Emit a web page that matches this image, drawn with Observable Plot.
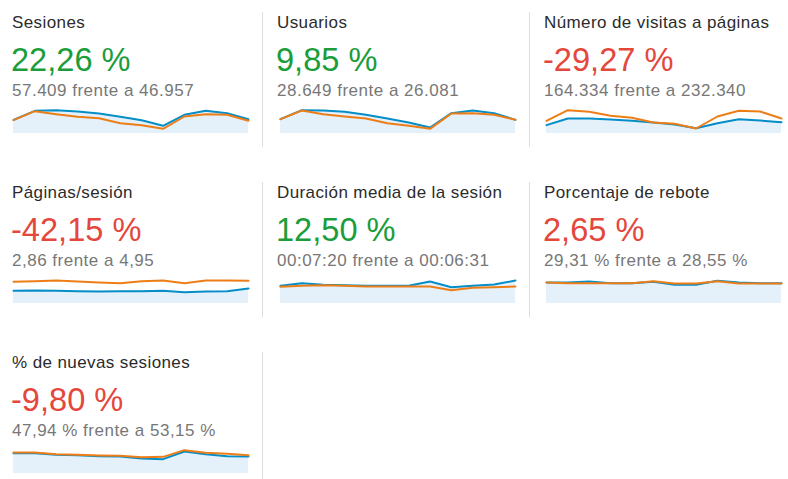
<!DOCTYPE html>
<html>
<head>
<meta charset="utf-8">
<script src="https://cdn.jsdelivr.net/npm/d3@7"></script>
<script src="https://cdn.jsdelivr.net/npm/@observablehq/plot@0.6"></script>
<style>
  html, body { margin: 0; padding: 0; background: #fff; }
  #root { position: relative; width: 788px; height: 479px; overflow: hidden; font-family: Arial, "Liberation Sans", sans-serif; }
  .title { position: absolute; font-size: 17px; line-height: 17px; letter-spacing: 0.4px; color: #2b2b2b; white-space: nowrap; }
  .big { position: absolute; font-size: 32.6px; line-height: 32px; white-space: nowrap; }
  .sub { position: absolute; font-size: 17px; line-height: 17px; letter-spacing: 0.5px; color: #777; white-space: nowrap; }
  .div { position: absolute; width: 1px; background: #ddd; }
  .spark { position: absolute; }
</style>
</head>
<body>
<div id="root"></div>
<script>
// ---- Data ----
const titles = ["Sesiones", "Usuarios", "Número de visitas a páginas", "Páginas/sesión", "Duración media de la sesión", "Porcentaje de rebote", "% de nuevas sesiones"];
const changes = ["22,26 %", "9,85 %", "-29,27 %", "-42,15 %", "12,50 %", "2,65 %", "-9,80 %"];
const good = [true, true, false, false, true, false, false];
const currentTotals = ["57.409", "28.649", "164.334", "2,86", "00:07:20", "29,31 %", "47,94 %"];
const previousTotals = ["46.957", "26.081", "232.340", "4,95", "00:06:31", "28,55 %", "53,15 %"];
const periods = [1, 2, 3, 4, 5, 6, 7, 8, 9, 10, 11, 12];

// relative sparkline values (current period = blue, previous period = orange)
const sesionesActual   = [41, 68, 70, 66, 60, 50, 40, 23, 56, 68, 61, 43];
const sesionesAnterior = [40, 67, 58, 50, 46, 31, 25, 14, 51, 58, 56, 38];
const usuariosActual   = [43, 70, 69, 65, 56, 45, 33, 18, 61, 69, 61, 41];
const usuariosAnterior = [43, 69, 58, 51, 45, 31, 23, 14, 60, 61, 56, 41];
const visitasActual    = [25, 45, 45, 42, 38, 33, 27, 16, 31, 43, 39, 34];
const visitasAnterior  = [38, 70, 65, 53, 47, 33, 29, 15, 51, 68, 66, 45];
const paginasActual    = [38, 39, 38, 37, 36, 37, 37, 38, 34, 36, 37, 45];
const paginasAnterior  = [65, 67, 69, 66, 63, 61, 67, 69, 61, 69, 69, 68];
const duracionActual   = [53, 61, 56, 55, 53, 53, 53, 66, 49, 53, 57, 69];
const duracionAnterior = [50, 53, 55, 53, 51, 51, 51, 51, 40, 47, 49, 51];
const reboteActual     = [63, 63, 66, 61, 61, 65, 56, 56, 68, 63, 61, 61];
const reboteAnterior   = [63, 61, 61, 61, 61, 67, 60, 60, 67, 60, 60, 60];
const nuevasActual     = [61, 61, 56, 55, 52, 51, 45, 43, 66, 58, 52, 51];
const nuevasAnterior   = [63, 63, 58, 56, 54, 53, 49, 50, 70, 62, 59, 55];

const actualSeries = [sesionesActual, usuariosActual, visitasActual, paginasActual, duracionActual, reboteActual, nuevasActual];
const anteriorSeries = [sesionesAnterior, usuariosAnterior, visitasAnterior, paginasAnterior, duracionAnterior, reboteAnterior, nuevasAnterior];

// ---- Layout ----
const root = document.getElementById("root");
const colText = [12, 277, 544];
const colSpark = [13, 280, 546];
const sparkW = 235;
const rowStep = 170;
const blue = "#058dc7", orange = "#ed7e17", fillBlue = "#e4f0fa";
const green = "#1b9d3c", red = "#e4473c";

function el(cls, text, left, top) {
  const d = document.createElement("div");
  d.className = cls;
  if (text != null) d.textContent = text;
  d.style.left = left + "px";
  d.style.top = top + "px";
  root.appendChild(d);
  return d;
}

// dividers
[[262, 0], [529, 0], [262, 1], [529, 1], [262, 2]].forEach(([x, r]) => {
  const d = el("div", null, x, 12 + r * rowStep);
  d.style.height = (r === 2 ? 130 : 135) + "px";
});

titles.forEach((t, i) => {
  const col = i % 3, row = Math.floor(i / 3);
  const oy = row * rowStep;
  el("title", t, colText[col], 14 + oy);
  const b = el("big", changes[i], colText[col] - 1, 43.5 + oy);
  b.style.color = good[i] ? green : red;
  el("sub", currentTotals[i] + " frente a " + previousTotals[i], colText[col], 81.5 + oy);

  const data = periods.map((p, k) => ({p, cur: actualSeries[i][k], prev: anteriorSeries[i][k]}));
  const svg = Plot.plot({
    width: sparkW + 4,
    height: 34,
    marginLeft: 2, marginRight: 2, marginTop: 4, marginBottom: 0,
    x: {domain: [1, 12], axis: null},
    y: {domain: [0, 90], axis: null},
    marks: [
      Plot.areaY(data, {x: "p", y: "cur", fill: fillBlue}),
      Plot.lineY(data, {x: "p", y: "cur", stroke: blue, strokeWidth: 2}),
      Plot.lineY(data, {x: "p", y: "prev", stroke: orange, strokeWidth: 2})
    ]
  });
  svg.classList.add("spark");
  svg.style.left = (colSpark[col] - 2) + "px";
  svg.style.top = (133 + oy - 34) + "px";
  svg.style.position = "absolute";
  svg.style.overflow = "visible";
  root.appendChild(svg);
});
</script>
</body>
</html>
